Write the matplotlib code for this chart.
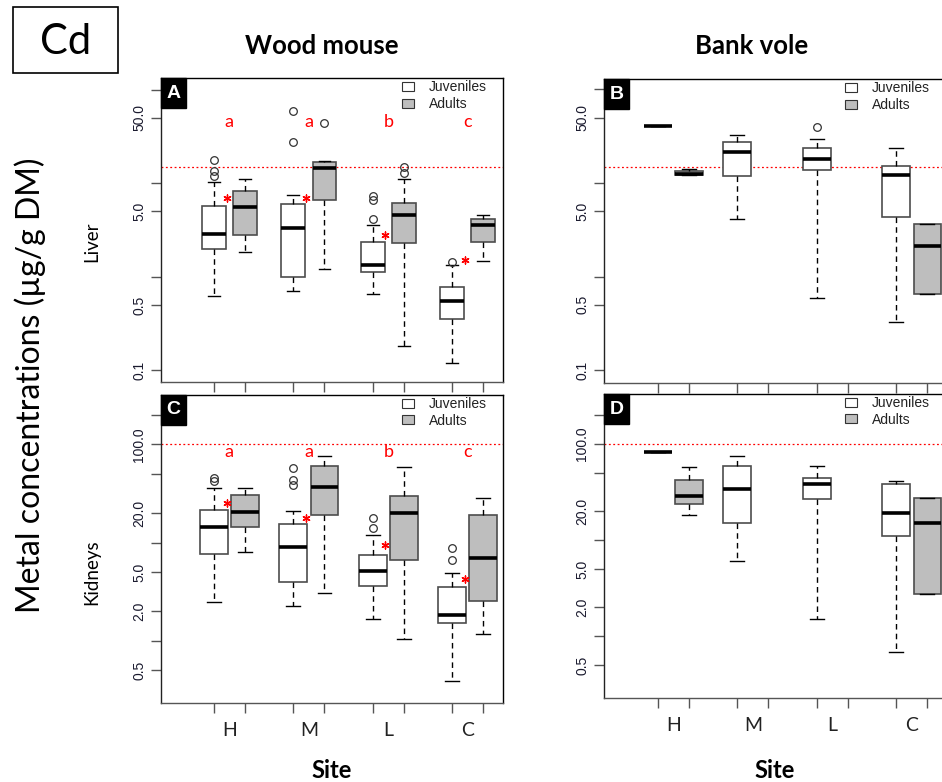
import numpy as np
import matplotlib
matplotlib.use('Agg')
import matplotlib.pyplot as plt
from matplotlib.patches import Patch, Rectangle
from matplotlib.ticker import NullLocator, FixedLocator

# ---------------- data ----------------
sites = ['H', 'M', 'L', 'C']
site_pos = [1, 2, 3, 4]

# stats rows: [whislo, q1, median, q3, whishi]
# Panel A - Wood mouse, liver
A_juv_stats = [[0.63, 1.98, 2.89, 5.74, 10.4],
               [0.71, 0.99, 3.32, 5.99, 7.47],
               [0.66, 1.12, 1.34, 2.33, 3.6],
               [0.121, 0.357, 0.556, 0.77, 1.34]]
A_juv_fliers = [[17.7, 13.6, 12.0], [59.4, 27.7], [4.18, 6.6, 7.35], [1.45]]
A_adu_stats = [[1.82, 2.79, 5.6, 8.3, 11.0],
               [1.20, 6.6, 14.4, 16.9, 17.4],
               [0.18, 2.31, 4.6, 6.08, 11.0],
               [1.49, 2.35, 3.55, 4.18, 4.57]]
A_adu_fliers = [[], [43.5], [15.0, 12.9], []]
A_star_y = [6.9, 7.0, 2.8, 1.51]
A_letters = ['a', 'a', 'b', 'c']
A_letter_y = [44.6, 44.6, 44.6, 44.6]
A_ref = 15.0

# Panel B - Bank vole, liver
B_juv_sites = [1, 2, 3, 4]
B_juv_stats = [[40.8, 40.8, 40.8, 40.8, 40.8],
               [4.1, 12.0, 21.3, 27.2, 32.3],
               [0.59, 13.9, 18.0, 23.7, 29.5],
               [0.33, 4.36, 12.1, 15.2, 23.7]]
B_juv_fliers = [[], [], [40.2], []]
B_adu_sites = [1, 4]
B_adu_stats = [[12.3, 12.3, 12.6, 13.5, 14.2],
               [0.65, 0.65, 2.15, 3.65, 3.65]]
B_adu_fliers = [[], []]
B_ref = 15.0

# Panel C - Wood mouse, kidneys
C_juv_stats = [[2.48, 7.6, 14.3, 21.4, 36.2],
               [2.26, 3.96, 9.1, 15.3, 21.1],
               [1.67, 3.57, 5.16, 7.5, 11.9],
               [0.385, 1.51, 1.81, 3.49, 4.93]]
C_juv_fliers = [[45.0, 42.0], [57.0, 43.3, 38.5], [17.9, 13.9], [8.7, 6.6]]
C_adu_stats = [[8.1, 14.3, 20.3, 30.5, 36.2],
               [3.03, 18.9, 36.8, 59.7, 76.7],
               [1.04, 6.63, 20.0, 30.0, 58.8],
               [1.18, 2.53, 7.0, 19.2, 28.6]]
C_adu_fliers = [[], [], [], []]
C_star_y = [25.5, 17.6, 9.4, 4.3]
C_letters = ['a', 'a', 'b', 'c']
C_letter_y = [83, 83, 83, 83]
C_ref = 100.0

# Panel D - Bank vole, kidneys
D_juv_sites = [1, 2, 3, 4]
D_juv_stats = [[81.9, 81.9, 81.9, 81.9, 81.9],
               [6.03, 15.0, 33.8, 58.6, 75.6],
               [1.50, 26.8, 38.7, 44.7, 58.6],
               [0.69, 11.1, 19.3, 38.1, 40.9]]
D_juv_fliers = [[], [], [], []]
D_adu_sites = [1, 4]
D_adu_stats = [[18.1, 23.8, 29.0, 42.6, 57.7],
               [2.76, 2.76, 15.2, 27.7, 27.7]]
D_adu_fliers = [[], []]
D_ref = 100.0

liver_ticks = [0.1, 0.5, 1, 5, 10, 50, 100]
liver_labels = ['0.1', '0.5', '', '5.0', '', '50.0', '']
kid_ticks = [0.5, 1, 2, 5, 10, 20, 50, 100, 200]
kid_labels = ['0.5', '', '2.0', '5.0', '', '20.0', '', '100.0', '']

# ---------------- style ----------------
W, H = 942, 782
JUV_FC = 'white'
ADU_FC = '#bebebe'
EDGE = '#4d4d4d'
OFF = 0.197
SANS = ['Lato', 'DejaVu Sans']
ARIAL = ['Liberation Sans', 'DejaVu Sans']

fig = plt.figure(figsize=(W / 100, H / 100), dpi=100)


def rect(l, t, r, b):
    return [l / W, 1 - b / H, (r - l) / W, (b - t) / H]


def stats_of(rows, fl):
    return [dict(whislo=r[0], q1=r[1], med=r[2], q3=r[3], whishi=r[4], fliers=f)
            for r, f in zip(rows, fl)]


def draw_boxes(ax, rows, fl, pos, fc, width):
    ax.bxp(stats_of(rows, fl), positions=pos, widths=width,
           capwidths=width * 0.5, patch_artist=True, showfliers=True,
           boxprops=dict(facecolor=fc, edgecolor=EDGE, linewidth=1.2),
           medianprops=dict(color='black', linewidth=2.6, solid_capstyle='butt'),
           whiskerprops=dict(color='black', linewidth=1.0, linestyle=(0, (4, 3))),
           capprops=dict(color='black', linewidth=1.0),
           flierprops=dict(marker='o', markerfacecolor='none', markeredgecolor='#333333',
                           markersize=5.5, markeredgewidth=0.9))


def setup(ax, letter, ticks, labels, ylim, xlim, ref, hpx, show_sites):
    ax.set_yscale('log')
    ax.set_ylim(*ylim)
    ax.set_xlim(*xlim)
    ax.axhline(ref, color='red', linestyle=(0, (1.5, 2.0)), linewidth=0.9, zorder=1)
    ax.yaxis.set_major_locator(FixedLocator(ticks))
    ax.yaxis.set_minor_locator(NullLocator())
    ax.set_yticklabels(labels, rotation=90, va='center', ha='right',
                       family=ARIAL, fontsize=10, color='#1a1a2e')
    box_pos = []
    for s in site_pos:
        box_pos += [s - OFF, s + OFF]
    ax.xaxis.set_major_locator(FixedLocator(box_pos))
    ax.set_xticklabels([''] * len(box_pos))
    if show_sites:
        ax.xaxis.set_minor_locator(FixedLocator(site_pos))
        ax.set_xticklabels(sites, minor=True, family=SANS, fontsize=14, color='#222222')
        ax.tick_params(axis='x', which='minor', length=0, pad=14)
    else:
        ax.xaxis.set_minor_locator(NullLocator())
    ax.tick_params(axis='both', which='major', direction='out', length=7.5,
                   width=1.0, color='#555555')
    ax.tick_params(axis='y', pad=3)
    for sp in ax.spines.values():
        sp.set_color('black')
        sp.set_linewidth(1.0)
    ax.spines['bottom'].set_color('#555555')
    ax.spines['left'].set_color('#222222')
    # panel letter
    bw = 25 / 342.5
    bh = 30 / hpx
    ax.add_patch(Rectangle((0, 1 - bh), bw, bh, transform=ax.transAxes,
                           facecolor='black', edgecolor='black', clip_on=False, zorder=6))
    ax.text(bw / 2, 1 - bh / 2, letter, transform=ax.transAxes, color='white',
            fontsize=14, fontweight='bold', family=ARIAL, ha='center', va='center', zorder=7)
    handles = [Patch(facecolor=JUV_FC, edgecolor='#333333', linewidth=0.8),
               Patch(facecolor=ADU_FC, edgecolor='#333333', linewidth=0.8)]
    leg = ax.legend(handles, ['Juveniles', 'Adults'], loc='upper left',
                    bbox_to_anchor=(241 / 342.5, 1 - 2 / hpx), frameon=False,
                    prop=dict(family=ARIAL, size=10), handlelength=0.85,
                    handleheight=0.6, handletextpad=1.1, labelspacing=0.2,
                    borderpad=0, borderaxespad=0)
    for t in leg.get_texts():
        t.set_color('#222222')


XL_L = (0.14, 4.45)
XL_R = (0.128, 4.437)

axA = fig.add_axes(rect(161, 78.3, 503.5, 382.3))
axB = fig.add_axes(rect(604, 79.3, 946.5, 383.3))
axC = fig.add_axes(rect(161, 395, 503.5, 703))
axD = fig.add_axes(rect(604, 394, 946.5, 698))

STAR = dict(marker=(6, 2, 0), s=26, color='red', linewidths=1.0, zorder=5)

# A
draw_boxes(axA, A_juv_stats, A_juv_fliers, [s - OFF for s in site_pos], JUV_FC, 0.30)
draw_boxes(axA, A_adu_stats, A_adu_fliers, [s + OFF for s in site_pos], ADU_FC, 0.30)
setup(axA, 'A', liver_ticks, liver_labels, (0.0745, 131.8), XL_L, A_ref, 304, False)
axA.scatter([s - 0.035 for s in site_pos], A_star_y, **STAR)
for s, l, y in zip(site_pos, A_letters, A_letter_y):
    axA.text(s, y, l, color='red', fontsize=13, family=SANS, ha='center', va='center')

# B
draw_boxes(axB, B_juv_stats, B_juv_fliers, [s - OFF for s in B_juv_sites], JUV_FC, 0.35)
draw_boxes(axB, B_adu_stats, B_adu_fliers, [s + OFF for s in B_adu_sites], ADU_FC, 0.35)
setup(axB, 'B', liver_ticks, liver_labels, (0.0726, 128.5), XL_R, B_ref, 304, False)

# C
draw_boxes(axC, C_juv_stats, C_juv_fliers, [s - OFF for s in site_pos], JUV_FC, 0.35)
draw_boxes(axC, C_adu_stats, C_adu_fliers, [s + OFF for s in site_pos], ADU_FC, 0.35)
setup(axC, 'C', kid_ticks, kid_labels, (0.232, 318), XL_L, C_ref, 308, True)
axC.scatter([s - 0.035 for s in site_pos], C_star_y, **STAR)
for s, l, y in zip(site_pos, C_letters, C_letter_y):
    axC.text(s, y, l, color='red', fontsize=13, family=SANS, ha='center', va='center')

# D
draw_boxes(axD, D_juv_stats, D_juv_fliers, [s - OFF for s in D_juv_sites], JUV_FC, 0.35)
draw_boxes(axD, D_adu_stats, D_adu_fliers, [s + OFF for s in D_adu_sites], ADU_FC, 0.35)
setup(axD, 'D', kid_ticks, kid_labels, (0.229, 331), XL_R, D_ref, 304, True)

# ---------------- figure texts ----------------
fig.patches.append(Rectangle((13 / W, 1 - 73 / H), 105 / W, 66 / H, transform=fig.transFigure,
                             facecolor='white', edgecolor='black', linewidth=1.2))
fig.text(66 / W, 1 - 42 / H, 'Cd', fontsize=30, family=SANS, ha='center', va='center')
fig.text(322 / W, 1 - 46 / H, 'Wood mouse', fontsize=18.5, fontweight='bold', family=SANS,
         ha='center', va='center')
fig.text(752 / W, 1 - 46 / H, 'Bank vole', fontsize=18.5, fontweight='bold', family=SANS,
         ha='center', va='center')
fig.text(30 / W, 1 - 385 / H, 'Metal concentrations (µg/g DM)', fontsize=23, family=SANS,
         rotation=90, ha='center', va='center')
fig.text(92 / W, 1 - 242 / H, 'Liver', fontsize=13.5, family=SANS, rotation=90,
         ha='center', va='center')
fig.text(92 / W, 1 - 572 / H, 'Kidneys', fontsize=13.5, family=SANS, rotation=90,
         ha='center', va='center')
fig.text(332 / W, 1 - 770 / H, 'Site', fontsize=17, fontweight='bold', family=SANS,
         ha='center', va='center')
fig.text(775 / W, 1 - 770 / H, 'Site', fontsize=17, fontweight='bold', family=SANS,
         ha='center', va='center')

fig.savefig('out.png', dpi=100)
